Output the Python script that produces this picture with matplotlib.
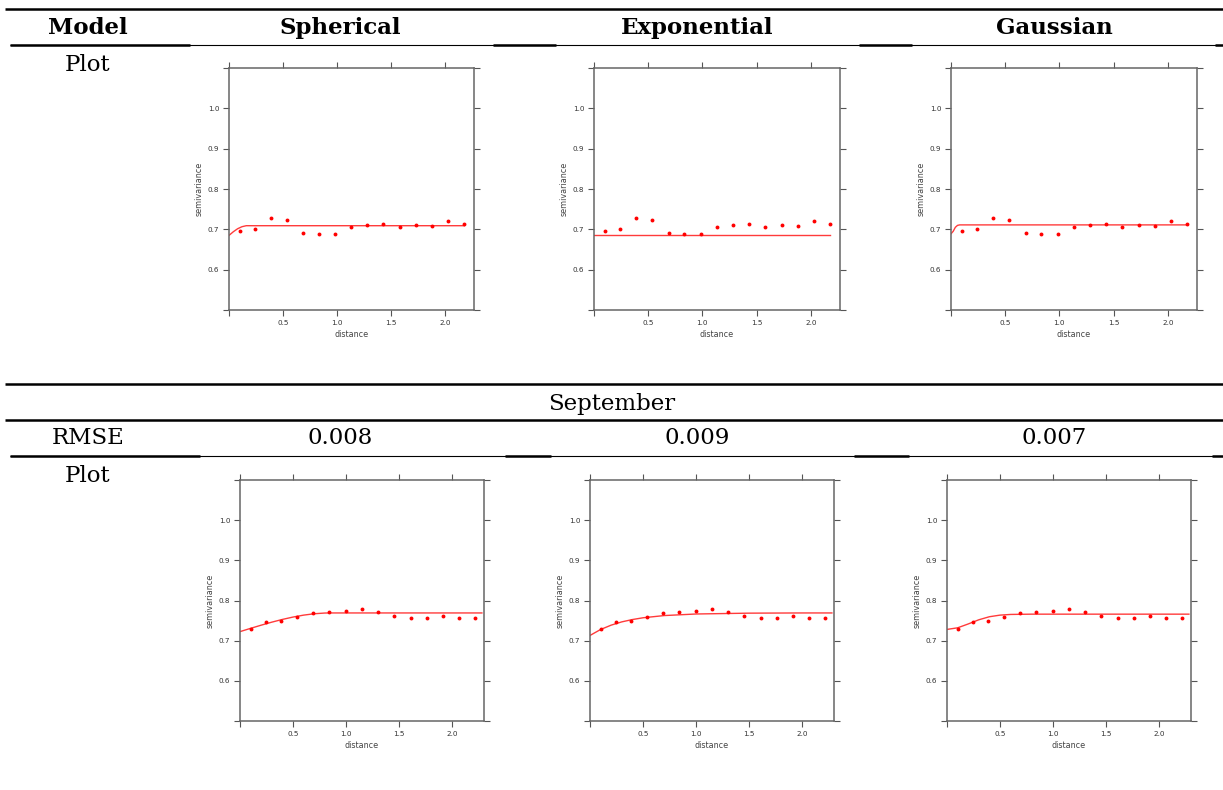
import matplotlib
matplotlib.use("Agg")
import matplotlib.pyplot as plt

# ---- data ----
models = ["Spherical", "Exponential", "Gaussian"]
month_label = "September"
rmse_sep = ["0.008", "0.009", "0.007"]

# experimental semivariogram, first row
top_dist = [0.103, 0.242, 0.386, 0.537, 0.688, 0.832, 0.986, 1.133,
            1.281, 1.431, 1.582, 1.733, 1.880, 2.031, 2.178]
top_gamma = [0.695, 0.700, 0.727, 0.724, 0.690, 0.689, 0.688, 0.705,
             0.710, 0.712, 0.706, 0.710, 0.709, 0.720, 0.713]

# experimental semivariogram, September row
sep_dist = [0.101, 0.243, 0.390, 0.541, 0.691, 0.842, 0.999, 1.150,
            1.303, 1.454, 1.608, 1.759, 1.913, 2.066, 2.216]
sep_gamma = [0.730, 0.746, 0.749, 0.759, 0.768, 0.772, 0.773, 0.780,
             0.771, 0.762, 0.757, 0.757, 0.761, 0.757, 0.757]

# fitted model lines
top_sph_x = [0.0, 0.04, 0.08, 0.12, 0.16, 2.18]
top_sph_y = [0.685, 0.694, 0.7015, 0.7065, 0.709, 0.709]
top_exp_x = [0.0, 2.18]
top_exp_y = [0.685, 0.685]
top_gau_x = [0.0, 0.02, 0.04, 0.06, 0.08, 2.18]
top_gau_y = [0.689, 0.695, 0.705, 0.7098, 0.711, 0.711]

sep_sph_x = [0.0, 0.1, 0.2, 0.3, 0.4, 0.5, 0.6, 0.7, 0.8, 0.85, 2.28]
sep_sph_y = [0.7225, 0.7307, 0.7386, 0.7461, 0.7529, 0.7588, 0.7636,
             0.7670, 0.7688, 0.769, 0.769]
sep_exp_x = [0.0, 0.1, 0.2, 0.3, 0.4, 0.5, 0.7, 1.0, 1.5, 2.0, 2.28]
sep_exp_y = [0.713, 0.7278, 0.7387, 0.7468, 0.7526, 0.7570, 0.7625,
             0.7664, 0.7685, 0.769, 0.769]
sep_gau_x = [0.0, 0.1, 0.2, 0.3, 0.4, 0.5, 0.6, 0.8, 2.28]
sep_gau_y = [0.728, 0.732, 0.7416, 0.752, 0.7596, 0.7636, 0.7653, 0.766, 0.766]

W, H = 1223, 790
fig = plt.figure(figsize=(W / 100, H / 100), dpi=100)

# background layer in pixel coords for the table
bg = fig.add_axes([0, 0, 1, 1])
bg.set_xlim(0, W)
bg.set_ylim(H, 0)
bg.axis("off")

serif = "DejaVu Serif"
thick, thin = 1.8, 0.8

def hline(y, x0, x1, lw):
    bg.plot([x0, x1], [y, y], color="black", lw=lw, solid_capstyle="butt")

hline(9, 5, W, thick)
hline(45, 10, W, thin)
for a, b in [(10, 190), (493, 556), (859, 912), (1215, W)]:
    hline(45, a, b, thick)
hline(384, 5, W, thick)
hline(420, 5, W, thick)
hline(456, 10, W, thin)
for a, b in [(10, 200), (505, 551), (854, 909), (1212, W)]:
    hline(456, a, b, thick)

col_x = [340, 697, 1054]
bg.text(88, 28, "Model", ha="center", va="center", fontsize=16.5,
        fontweight="bold", family=serif)
for x, m in zip(col_x, models):
    bg.text(x, 28, m, ha="center", va="center", fontsize=16.5,
            fontweight="bold", family=serif)
bg.text(88, 65, "Plot", ha="center", va="center", fontsize=16.5, family=serif)
bg.text(612, 404, month_label, ha="center", va="center", fontsize=16.5, family=serif)
bg.text(88, 438, "RMSE", ha="center", va="center", fontsize=16.5, family=serif)
for x, r in zip(col_x, rmse_sep):
    bg.text(x, 438, r, ha="center", va="center", fontsize=16.5, family=serif)
bg.text(88, 476, "Plot", ha="center", va="center", fontsize=16.5, family=serif)


def panel(box, xmax, dist, gamma, lx, ly):
    x0, y0, x1, y1 = box
    ax = fig.add_axes([x0 / W, 1 - y1 / H, (x1 - x0) / W, (y1 - y0) / H])
    ax.plot(lx, ly, color="#ff3b3b", lw=1.0)
    ax.plot(dist, gamma, "o", color="red", ms=2.8, mew=0)
    ax.set_xlim(0, xmax)
    ax.set_ylim(0.5, 1.1)
    ax.set_xticks([0, 0.5, 1.0, 1.5, 2.0])
    ax.set_xticklabels(["", "0.5", "1.0", "1.5", "2.0"])
    ax.set_yticks([0.5, 0.6, 0.7, 0.8, 0.9, 1.0, 1.1])
    ax.set_yticklabels(["", "0.6", "0.7", "0.8", "0.9", "1.0", ""])
    ax.tick_params(direction="out", length=4, width=0.8, color="#555555",
                   labelsize=5.2, labelcolor="#333333", pad=3,
                   top=True, right=True, labeltop=False, labelright=False)
    for s in ax.spines.values():
        s.set_color("#666666")
        s.set_linewidth(1.1)
    ax.set_xlabel("distance", fontsize=5.8, color="#444444", labelpad=3)
    ax.set_ylabel("semivariance", fontsize=5.8, color="#444444", labelpad=3)
    return ax


top_boxes = [(229, 68, 474, 310), (594, 68, 840, 310), (951, 68, 1197, 310)]
sep_boxes = [(240, 480, 484, 721), (590, 480, 834, 721), (947, 480, 1191, 721)]
top_lines = [(top_sph_x, top_sph_y), (top_exp_x, top_exp_y), (top_gau_x, top_gau_y)]
sep_lines = [(sep_sph_x, sep_sph_y), (sep_exp_x, sep_exp_y), (sep_gau_x, sep_gau_y)]

for box, (lx, ly) in zip(top_boxes, top_lines):
    panel(box, 2.27, top_dist, top_gamma, lx, ly)
for box, (lx, ly) in zip(sep_boxes, sep_lines):
    panel(box, 2.30, sep_dist, sep_gamma, lx, ly)

fig.savefig("out.png", dpi=100)
